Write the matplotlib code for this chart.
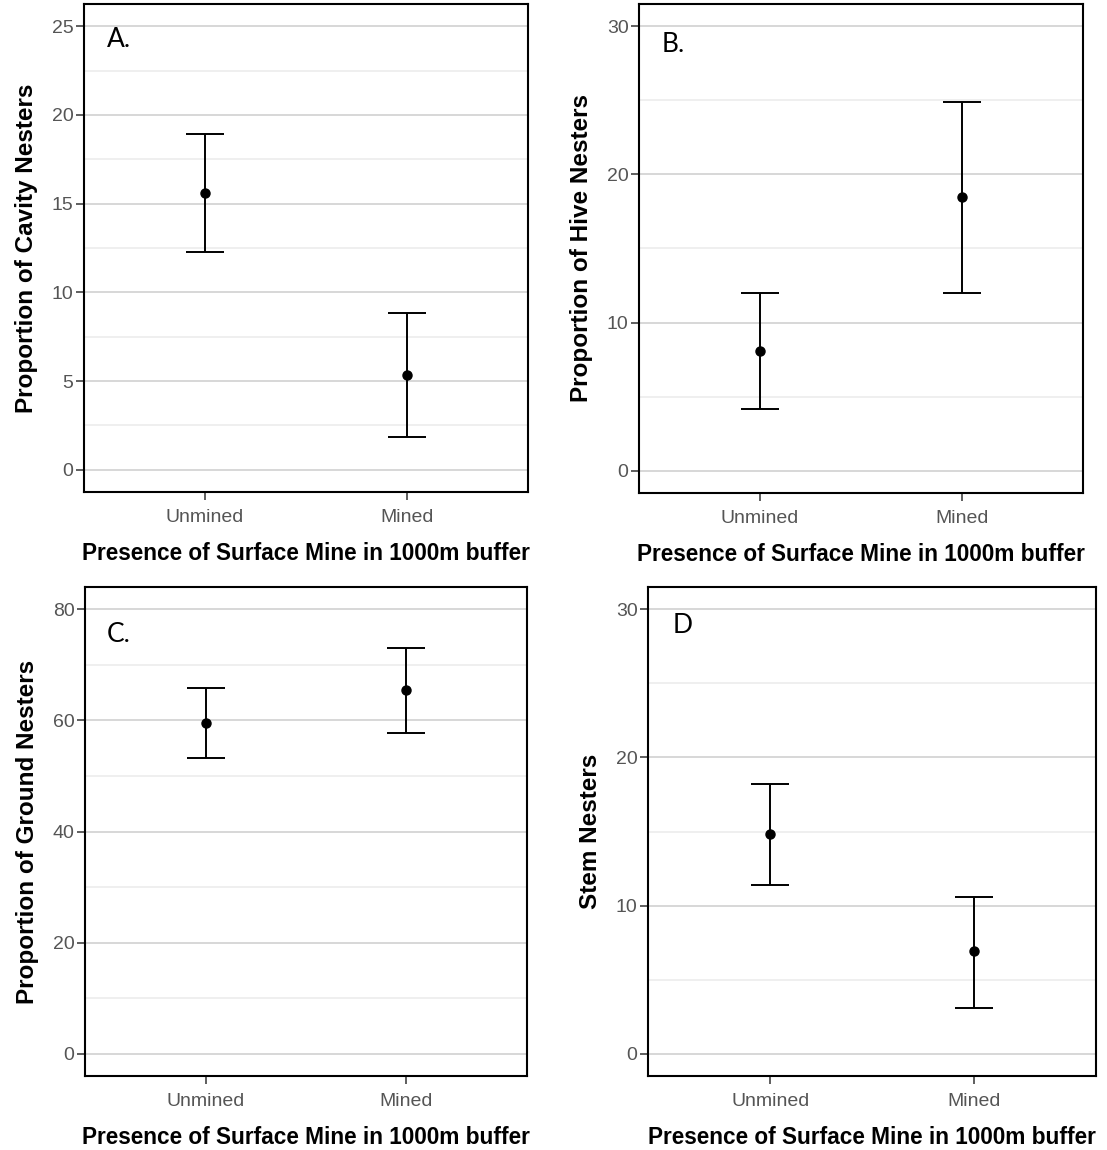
import matplotlib
matplotlib.use('Agg')
import matplotlib.pyplot as plt
from matplotlib import font_manager as fm
from matplotlib.ticker import MultipleLocator

# ---------------- data ----------------
categories = ['Unmined', 'Mined']

cavity_mean = [15.6, 5.34]
cavity_low = [12.3, 1.85]
cavity_high = [18.9, 8.82]

hive_mean = [8.1, 18.5]
hive_low = [4.18, 12.0]
hive_high = [12.0, 24.9]

ground_mean = [59.5, 65.4]
ground_low = [53.2, 57.7]
ground_high = [65.8, 73.0]

stem_mean = [14.83, 6.96]
stem_low = [11.4, 3.1]
stem_high = [18.2, 10.6]

y_labels = ['Proportion of Cavity Nesters', 'Proportion of Hive Nesters',
            'Proportion of Ground Nesters', 'Stem Nesters']
panel_tags = ['A.', 'B.', 'C.', 'D']
y_limits = [(0, 25), (0, 30), (0, 80), (0, 30)]
y_major = [5, 10, 20, 10]
x_title = 'Presence of Surface Mine in 1000m buffer'

# ---------------- fonts ----------------
names = {f.name for f in fm.fontManager.ttflist}
narrow = 'Liberation Sans Narrow' if 'Liberation Sans Narrow' in names else 'Liberation Sans'
tagfont = 'Lato' if 'Lato' in names else 'DejaVu Sans'

W, H = 1107, 1150
fig = plt.figure(figsize=(W / 100, H / 100), dpi=100)

# axes boxes in pixels: left, top, right, bottom
boxes = [(84, 4, 528, 492), (639, 4, 1083, 493),
         (85, 587, 527, 1076), (648, 587, 1096, 1076)]
tag_pos = [(0.052, 0.912), (0.052, 0.902), (0.049, 0.888), (0.055, 0.906)]

series = [(cavity_mean, cavity_low, cavity_high),
          (hive_mean, hive_low, hive_high),
          (ground_mean, ground_low, ground_high),
          (stem_mean, stem_low, stem_high)]

for i, (l, t, r, b) in enumerate(boxes):
    ax = fig.add_axes([l / W, 1 - b / H, (r - l) / W, (b - t) / H])
    mean, low, high = series[i]
    xs = list(range(len(categories)))
    yerr = [[m - lo for m, lo in zip(mean, low)], [hi - m for m, hi in zip(mean, high)]]
    ax.errorbar(xs, mean, yerr=yerr, fmt='o', color='black', ms=6.5,
                elinewidth=1.4, capsize=14, capthick=1.4, zorder=3)
    lo, hi = y_limits[i]
    pad = (hi - lo) * 0.05
    ax.set_ylim(lo - pad, hi + pad)
    ax.set_xlim(-0.6, len(categories) - 0.4)
    ax.set_xticks(xs)
    ax.set_xticklabels(categories)
    ax.yaxis.set_major_locator(MultipleLocator(y_major[i]))
    ax.yaxis.set_minor_locator(MultipleLocator(y_major[i] / 2))
    ax.grid(which='major', axis='y', color='#d4d4d4', lw=1.3, zorder=0)
    ax.grid(which='minor', axis='y', color='#ebebeb', lw=1.1, zorder=0)
    ax.set_axisbelow(True)
    ax.tick_params(which='minor', length=0)
    ax.tick_params(which='major', length=5.5, width=1.1, color='#333333',
                   labelcolor='#555555', pad=2)
    ax.tick_params(axis='x', which='major', pad=7)
    for lab in ax.get_xticklabels() + ax.get_yticklabels():
        lab.set_fontfamily(narrow)
        lab.set_fontsize(14)
    for s in ax.spines.values():
        s.set_linewidth(1.5)
        s.set_color('black')
    ax.set_xlabel(x_title, fontsize=16.3, fontweight='bold', family='Liberation Sans',
                  labelpad=11)
    ax.set_ylabel(y_labels[i], fontsize=17.5, fontweight='bold', family='Liberation Sans',
                  labelpad=10)
    ax.text(tag_pos[i][0], tag_pos[i][1], panel_tags[i], transform=ax.transAxes,
            fontsize=19, family=tagfont, ha='left', va='baseline')

fig.savefig('out.png', dpi=100, facecolor='white')
